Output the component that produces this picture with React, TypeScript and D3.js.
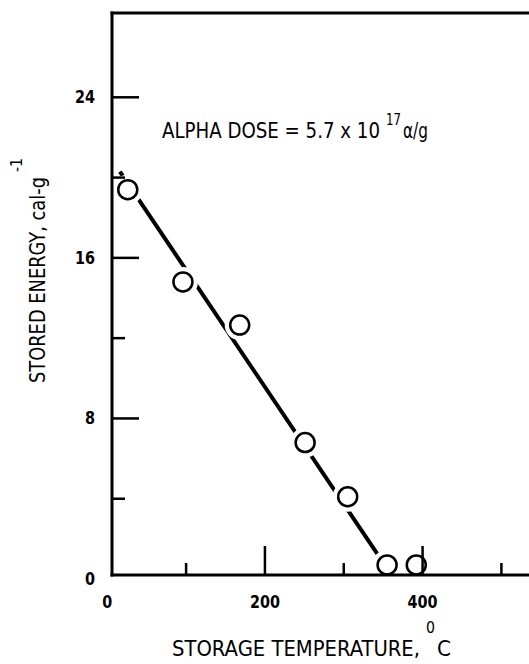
import React from "react";
import * as d3 from "d3";

// storage temperature (C) vs stored energy (cal/g)
const storageTemp = [26, 96, 168, 251, 305, 355, 392];
const storedEnergy = [19.4, 14.8, 12.65, 6.8, 4.1, 0.7, 0.7];

// hand-drawn fit line, two ends
const fitTemp = [16, 346];
const fitEnergy = [20.3, 1.05];

const yLabelTicks = [0, 8, 16, 24];
const yMajorTicks = [8, 16, 24];
const yMinorTicks = [4, 12, 20];
const xLabelTicks = [0, 200, 400];
const xMajorTicks = [200, 400];
const xMinorTicks = [100, 300, 500];

const W = 529;
const H = 664;
const FONT = "'Liberation Sans Narrow', 'DejaVu Sans Condensed', 'Liberation Sans', sans-serif";

const App = () => {
  const x = d3.scaleLinear().domain([6, 535]).range([112, 529]);
  const y = d3.scaleLinear().domain([0.2, 28.2]).range([575, 13]);

  const left = x(6);
  const bottom = y(0.2);
  const top = y(28.2);

  const fitLine = d3.line<number>()
    .x((d, i) => x(fitTemp[i]))
    .y((d) => y(d));

  const points = storageTemp.map((t, i) => ({ t, e: storedEnergy[i] }));

  return (
    <svg
      width={W}
      height={H}
      style={{ position: "absolute", left: 0, top: 0, display: "block", background: "#fff" }}
    >
      {/* fit line */}
      <path d={fitLine(fitEnergy) || ""} fill="none" stroke="#000" strokeWidth={4} />

      {/* white gaps round the markers */}
      {points.map((p, i) => (
        <circle key={"h" + i} cx={x(p.t)} cy={y(p.e)} r={15} fill="#fff" />
      ))}

      {/* frame */}
      <line x1={left} x2={left} y1={top - 1.5} y2={bottom + 1.5} stroke="#000" strokeWidth={3} />
      <line x1={left - 1.5} x2={W} y1={bottom} y2={bottom} stroke="#000" strokeWidth={3} />
      <line x1={left - 1.5} x2={W} y1={top} y2={top} stroke="#000" strokeWidth={3} />

      {/* y ticks */}
      {yMajorTicks.map((v) => (
        <line key={"ym" + v} x1={left} x2={left + 27} y1={y(v)} y2={y(v)} stroke="#000" strokeWidth={2.5} />
      ))}
      {yMinorTicks.map((v) => (
        <line key={"yn" + v} x1={left} x2={left + 13} y1={y(v)} y2={y(v)} stroke="#000" strokeWidth={2.5} />
      ))}
      {/* x ticks */}
      {xMajorTicks.map((v) => (
        <line key={"xm" + v} x1={x(v)} x2={x(v)} y1={bottom} y2={bottom - 29} stroke="#000" strokeWidth={2.5} />
      ))}
      {xMinorTicks.map((v) => (
        <line key={"xn" + v} x1={x(v)} x2={x(v)} y1={bottom} y2={bottom - 12} stroke="#000" strokeWidth={2.5} />
      ))}

      {/* markers */}
      {points.map((p, i) => (
        <circle key={"c" + i} cx={x(p.t)} cy={y(p.e)} r={9.5} fill="none" stroke="#000" strokeWidth={2.5} />
      ))}

      {/* tick labels */}
      <g fontFamily={FONT} fontWeight="bold" fontSize={18} fill="#000">
        {yLabelTicks.map((v) => (
          <text key={"yl" + v} x={95} y={y(v) + 6} textAnchor="end" textLength={String(v).length * 10} lengthAdjust="spacingAndGlyphs">{v}</text>
        ))}
        {xLabelTicks.map((v) => (
          <text key={"xl" + v} x={x(v)} y={608} textAnchor="middle" fontSize={17} textLength={String(v).length * 10} lengthAdjust="spacingAndGlyphs">{v}</text>
        ))}
      </g>

      {/* annotation */}
      <g fontFamily={FONT} fill="#000">
        <text x={162} y={138} fontSize={21} textLength={218} lengthAdjust="spacingAndGlyphs">ALPHA DOSE = 5.7 x 10</text>
        <text x={386} y={125} fontSize={15} textLength={15} lengthAdjust="spacingAndGlyphs">17</text>
        <text x={403} y={138} fontSize={21} textLength={25} lengthAdjust="spacingAndGlyphs">α/g</text>
      </g>

      {/* axis titles */}
      <g fontFamily={FONT} fill="#000">
        <text x={172} y={656} fontSize={21} textLength={248} lengthAdjust="spacingAndGlyphs">STORAGE TEMPERATURE,</text>
        <text x={426} y={633} fontSize={15} textLength={9} lengthAdjust="spacingAndGlyphs">0</text>
        <text x={437} y={656} fontSize={21} textLength={14} lengthAdjust="spacingAndGlyphs">C</text>

        <text transform="translate(45,383) rotate(-90)" fontSize={21} textLength={206} lengthAdjust="spacingAndGlyphs">STORED ENERGY, cal-g</text>
        <text transform="translate(22,172) rotate(-90)" fontSize={16} textLength={14} lengthAdjust="spacingAndGlyphs">-1</text>
      </g>
    </svg>
  );
};

export default App;
